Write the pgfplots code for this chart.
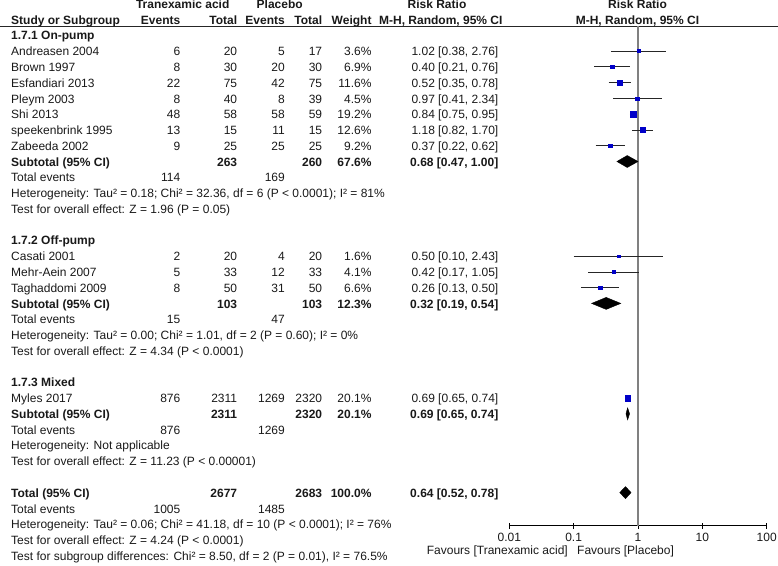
\documentclass[border=0pt]{standalone}
\usepackage{pgfplots}
\pgfplotsset{compat=1.18}
\usepackage{fontspec}
\setmainfont{Liberation Sans}

\definecolor{sqblue}{RGB}{0,0,200}
\definecolor{txt}{RGB}{25,25,25}

% one table row: [font] y, name, events, total, events, total, weight, CI
\newcommand{\entry}[9][]{%
  \node[anchor=mid west] at (11,#2) {#1#3};
  \node[anchor=mid east] at (180.5,#2) {#1#4};
  \node[anchor=mid east] at (237.3,#2) {#1#5};
  \node[anchor=mid east] at (285,#2) {#1#6};
  \node[anchor=mid east] at (322.3,#2) {#1#7};
  \node[anchor=mid east] at (371.7,#2) {#1#8};
  \node[anchor=mid east] at (498.5,#2) {#1#9};
}
\newcommand{\tline}[2]{\node[anchor=mid west] at (11,#1) {#2};}

% one study: est, lo, hi, y, mark size
\newcommand{\study}[5]{%
  \addplot[black!85, line width=0.8pt] coordinates {(#2,#4) (#3,#4)};
  \addplot[only marks, mark=square*, mark size=#5pt, draw=sqblue, fill=sqblue] coordinates {(#1,#4)};
}

\begin{document}
\begin{tikzpicture}[every node/.style={inner sep=0pt, text=txt, font=\fontsize{12}{14}\selectfont}]

\begin{scope}[x=1pt, y=-1pt]
  % header
  \node[anchor=mid] at (182.7,5.76) {\bfseries Tranexamic acid};
  \node[anchor=mid] at (279.7,5.76) {\bfseries Placebo};
  \node[anchor=mid] at (437,5.76) {\bfseries Risk Ratio};
  \node[anchor=mid] at (637.5,5.76) {\bfseries Risk Ratio};
  \entry[\bfseries]{21.53}{Study or Subgroup}{Events}{Total}{Events}{Total}{Weight}{}
  \node[anchor=mid] at (440.8,21.53) {\bfseries M-H, Random, 95\% CI};
  \node[anchor=mid] at (637.5,21.53) {\bfseries M-H, Random, 95\% CI};
  \draw[black!85, line width=0.8pt] (0,26) -- (778,26);

  % 1.7.1
  \tline{37.30}{\bfseries 1.7.1 On-pump}
  \entry{53.07}{Andreasen 2004}{6}{20}{5}{17}{3.6\%}{1.02 [0.38, 2.76]}
  \entry{68.84}{Brown 1997}{8}{30}{20}{30}{6.9\%}{0.40 [0.21, 0.76]}
  \entry{84.61}{Esfandiari 2013}{22}{75}{42}{75}{11.6\%}{0.52 [0.35, 0.78]}
  \entry{100.38}{Pleym 2003}{8}{40}{8}{39}{4.5\%}{0.97 [0.41, 2.34]}
  \entry{116.15}{Shi 2013}{48}{58}{58}{59}{19.2\%}{0.84 [0.75, 0.95]}
  \entry{131.92}{speekenbrink 1995}{13}{15}{11}{15}{12.6\%}{1.18 [0.82, 1.70]}
  \entry{147.69}{Zabeeda 2002}{9}{25}{25}{25}{9.2\%}{0.37 [0.22, 0.62]}
  \entry[\bfseries]{163.46}{Subtotal (95\% CI)}{}{263}{}{260}{67.6\%}{0.68 [0.47, 1.00]}
  \entry{179.23}{Total events}{114}{}{169}{}{}{}
  \tline{195.00}{Heterogeneity: Tau² = 0.18; Chi² = 32.36, df = 6 (P < 0.0001); I² = 81\%}
  \tline{210.77}{Test for overall effect: Z = 1.96 (P = 0.05)}

  % 1.7.2
  \tline{242.31}{\bfseries 1.7.2 Off-pump}
  \entry{258.08}{Casati 2001}{2}{20}{4}{20}{1.6\%}{0.50 [0.10, 2.43]}
  \entry{273.85}{Mehr-Aein 2007}{5}{33}{12}{33}{4.1\%}{0.42 [0.17, 1.05]}
  \entry{289.62}{Taghaddomi 2009}{8}{50}{31}{50}{6.6\%}{0.26 [0.13, 0.50]}
  \entry[\bfseries]{305.39}{Subtotal (95\% CI)}{}{103}{}{103}{12.3\%}{0.32 [0.19, 0.54]}
  \entry{321.16}{Total events}{15}{}{47}{}{}{}
  \tline{336.93}{Heterogeneity: Tau² = 0.00; Chi² = 1.01, df = 2 (P = 0.60); I² = 0\%}
  \tline{352.70}{Test for overall effect: Z = 4.34 (P < 0.0001)}

  % 1.7.3
  \tline{384.24}{\bfseries 1.7.3 Mixed}
  \entry{400.01}{Myles 2017}{876}{2311}{1269}{2320}{20.1\%}{0.69 [0.65, 0.74]}
  \entry[\bfseries]{415.78}{Subtotal (95\% CI)}{}{2311}{}{2320}{20.1\%}{0.69 [0.65, 0.74]}
  \entry{431.55}{Total events}{876}{}{1269}{}{}{}
  \tline{447.32}{Heterogeneity: Not applicable}
  \tline{463.09}{Test for overall effect: Z = 11.23 (P < 0.00001)}

  % total
  \entry[\bfseries]{494.63}{Total (95\% CI)}{}{2677}{}{2683}{100.0\%}{0.64 [0.52, 0.78]}
  \entry{510.40}{Total events}{1005}{}{1485}{}{}{}
  \tline{526.17}{Heterogeneity: Tau² = 0.06; Chi² = 41.18, df = 10 (P < 0.0001); I² = 76\%}
  \tline{541.94}{Test for overall effect: Z = 4.24 (P < 0.0001)}
  \tline{557.71}{Test for subgroup differences: Chi² = 8.50, df = 2 (P = 0.01), I² = 76.5\%}

  \node[anchor=mid east] at (568,551.7) {Favours [Tranexamic acid]};
  \node[anchor=mid west] at (577,551.7) {Favours [Placebo]};
\end{scope}

\begin{axis}[
    at={(509.3pt,-525.7pt)}, anchor=south west,
    scale only axis, width=257.4pt, height=525.7pt,
    xmode=log, xmin=0.01, xmax=100, ymin=-525.7, ymax=0,
    axis x line*=bottom, hide y axis,
    x axis line style={black, line width=0.8pt, -},
    xtick={0.01,0.1,1,10,100}, xticklabels={0.01,0.1,1,10,100},
    xminorticks=false, tick align=center, major tick length=6pt,
    every tick/.style={black, line width=0.8pt},
    xticklabel style={anchor=mid, yshift=-10.5pt},
    clip=false,
]
% line of no effect
\addplot[gray, line width=1.5pt] coordinates {(1,-26) (1,-525.7)};

% 1.7.1 On-pump
\study{1.02}{0.38}{2.76}{-51.0}{1.49}
\study{0.40}{0.21}{0.76}{-66.8}{1.75}
\study{0.52}{0.35}{0.78}{-82.6}{2.13}
\study{0.97}{0.41}{2.34}{-98.4}{1.56}
\study{0.84}{0.75}{0.95}{-114.2}{2.74}
\study{1.18}{0.82}{1.70}{-129.9}{2.21}
\study{0.37}{0.22}{0.62}{-145.7}{1.94}
\addplot[fill=black, draw=black] coordinates {(0.47,-161.5) (0.68,-155.5) (1.00,-161.5) (0.68,-167.5)} -- cycle;

% 1.7.2 Off-pump
\study{0.50}{0.10}{2.43}{-256.1}{1.33}
\study{0.42}{0.17}{1.05}{-271.9}{1.53}
\study{0.26}{0.13}{0.50}{-287.6}{1.73}
\addplot[fill=black, draw=black] coordinates {(0.19,-303.4) (0.32,-297.4) (0.54,-303.4) (0.32,-309.4)} -- cycle;

% 1.7.3 Mixed
\study{0.69}{0.65}{0.74}{-398.0}{2.81}
\addplot[fill=black, draw=black] coordinates {(0.65,-413.8) (0.69,-407.8) (0.74,-413.8) (0.69,-419.8)} -- cycle;

% overall
\addplot[fill=black, draw=black] coordinates {(0.52,-492.6) (0.64,-486.6) (0.78,-492.6) (0.64,-498.6)} -- cycle;
\end{axis}

\pgfresetboundingbox
\path[use as bounding box] (0pt,0pt) rectangle (778pt,-565pt);
\end{tikzpicture}
\end{document}
